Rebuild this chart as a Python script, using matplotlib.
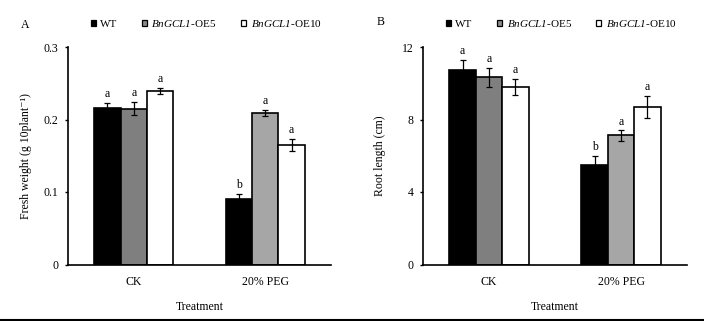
import numpy as np
import matplotlib
matplotlib.use("Agg")
import matplotlib.pyplot as plt
from matplotlib.patches import Patch
from matplotlib.lines import Line2D

plt.rcParams['font.family'] = ['Liberation Serif', 'DejaVu Serif']
plt.rcParams['mathtext.fontset'] = 'custom'
plt.rcParams['mathtext.rm'] = 'Liberation Serif:italic'
plt.rcParams['mathtext.it'] = 'Liberation Serif:italic'

# data
treatments = ["CK", "20% PEG"]
lines = ["WT", r"$\mathit{BnGCL1}$-OE5", r"$\mathit{BnGCL1}$-OE10"]

fresh_weight = [[0.216, 0.091],   # WT
                [0.215, 0.209],   # OE5
                [0.239, 0.165]]   # OE10
fresh_err = [[0.007, 0.006],
             [0.009, 0.004],
             [0.004, 0.008]]
fresh_letters = [["a", "b"], ["a", "a"], ["a", "a"]]

root_length = [[10.73, 5.49],
               [10.33, 7.12],
               [9.78, 8.70]]
root_err = [[0.55, 0.50],
            [0.53, 0.28],
            [0.45, 0.60]]
root_letters = [["a", "b"], ["a", "a"], ["a", "a"]]

# fill per line and treatment (OE5 is rendered lighter under PEG)
fills = [["black", "black"], ["#7f7f7f", "#a6a6a6"], ["white", "white"]]
legend_fills = ["black", "#8c8c8c", "white"]

fig = plt.figure(figsize=(7.04, 3.21), dpi=100)
axA = fig.add_axes([68/704, 1-264.5/321, 263/704, 217.5/321])
axB = fig.add_axes([423/704, 1-264.5/321, 264/704, 217.5/321])

fs = 8.5
w = 0.2


def draw_panel(ax, vals, errs, letters, ymax, yticks, ylabel, pad, labelpad):
    x = np.arange(len(treatments))
    for i in range(len(lines)):
        pos = x + (i - 1) * w
        ax.bar(pos, vals[i], width=w, color=fills[i], edgecolor="black",
               linewidth=1.2, zorder=2)
        ax.errorbar(pos, vals[i], yerr=errs[i], fmt="none", ecolor="black",
                    elinewidth=0.9, capsize=2.5, capthick=0.9, zorder=3)
        for j in range(len(treatments)):
            ax.text(pos[j], vals[i][j] + errs[i][j] + pad, letters[i][j],
                    ha="center", va="bottom", fontsize=fs)
    ax.set_xlim(-0.5, 1.5)
    ax.set_ylim(0, ymax)
    ax.set_yticks(yticks)
    ax.set_xticks(x)
    ax.set_xticklabels(treatments, fontsize=fs)
    ax.tick_params(axis="x", length=0, pad=8)
    ax.tick_params(axis="y", length=2, width=1, direction="out", labelsize=fs, pad=5)
    for s in ["top", "right"]:
        ax.spines[s].set_visible(False)
    for s in ["left", "bottom"]:
        ax.spines[s].set_linewidth(1.2)
    ax.set_ylabel(ylabel, fontsize=fs, labelpad=labelpad)
    ax.set_xlabel("Treatment", fontsize=fs, labelpad=10)
    handles = [Patch(facecolor=legend_fills[i], edgecolor="black", linewidth=0.9)
               for i in range(len(lines))]
    ax.legend(handles, lines, ncol=3, frameon=False, fontsize=8,
              loc="lower left", bbox_to_anchor=(0.07, 1.063),
              handlelength=0.45, handleheight=0.45, handletextpad=0.4,
              columnspacing=2.2, borderaxespad=0)


draw_panel(axA, fresh_weight, fresh_err, fresh_letters, 0.3,
           [0, 0.1, 0.2, 0.3], "Fresh weight (g 10plant⁻¹)", 0.004, 8)
axA.set_yticklabels(["0", "0.1", "0.2", "0.3"])
draw_panel(axB, root_length, root_err, root_letters, 12,
           [0, 4, 8, 12], "Root length (cm)", 0.15, 11)

fig.text(21/704, 1-25/321, "A", fontsize=fs, ha="left", va="center")
fig.text(377/704, 1-22/321, "B", fontsize=fs, ha="left", va="center")

# bottom border line of the figure
fig.add_artist(Line2D([0, 1], [1.5/321, 1.5/321], color="black", linewidth=1.5,
                      transform=fig.transFigure))

fig.savefig("out.png", dpi=100)
